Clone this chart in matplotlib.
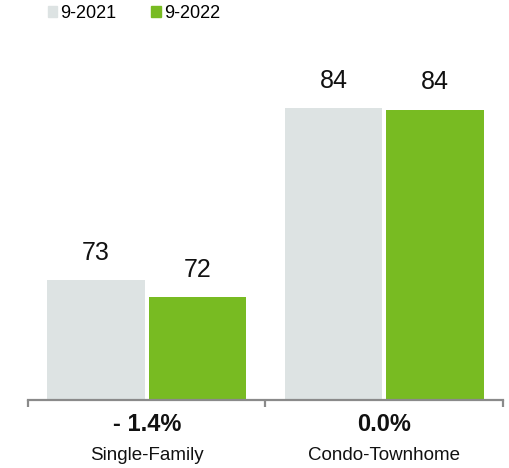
import numpy as np
import matplotlib.pyplot as plt
from matplotlib.patches import Patch

plt.rcParams['font.family'] = ['Liberation Sans', 'DejaVu Sans']

# Data
categories = ['Single-Family', 'Condo-Townhome']
changes = ['- 1.4%', '0.0%']
series_names = ['9-2021', '9-2022']
values_2021 = [73.0, 84.0]
values_2022 = [71.9, 83.9]
colors = ['#dde3e3', '#78bb22']

fig = plt.figure(figsize=(5.1, 4.68), dpi=100)
ax = fig.add_axes([28 / 510, 68 / 468, 475 / 510, 350 / 468])

x = np.arange(len(categories))
width = 0.41
offset = 0.214

for vals, off, col in [(values_2021, -offset, colors[0]), (values_2022, offset, colors[1])]:
    bars = ax.bar(x + off, vals, width, color=col)
    for b, v in zip(bars, vals):
        ax.annotate('{:.0f}'.format(v), (b.get_x() + b.get_width() / 2, v),
                    xytext=(0, 11), textcoords='offset points',
                    ha='center', va='bottom', fontsize=18, color='#111111')

ax.set_xlim(-0.5, 1.5)
ax.set_ylim(65.33, 87.71)

for s in ['top', 'right', 'left']:
    ax.spines[s].set_visible(False)
ax.spines['bottom'].set_color('#8a8a8a')
ax.spines['bottom'].set_linewidth(1.6)
ax.set_yticks([])
ax.set_xticks([-0.5, 0.5, 1.5])
ax.set_xticklabels([])
ax.tick_params(axis='x', length=5, width=1.6, color='#8a8a8a', direction='out')

for i in range(len(categories)):
    ax.text(i, -0.07, changes[i], transform=ax.get_xaxis_transform(),
            ha='center', va='center', fontsize=17, fontweight='bold', color='#111111')
    ax.text(i, -0.16, categories[i], transform=ax.get_xaxis_transform(),
            ha='center', va='center', fontsize=13.5, color='#111111')

handles = [Patch(color=c) for c in colors]
fig.legend(handles, series_names, loc='upper left', bbox_to_anchor=(43 / 510, 1.0),
           ncol=2, frameon=False, fontsize=13, handlelength=0.55, handleheight=0.55,
           handletextpad=0.15, columnspacing=1.95, borderaxespad=0.0, borderpad=0.25)

fig.savefig('out.png', dpi=100)
